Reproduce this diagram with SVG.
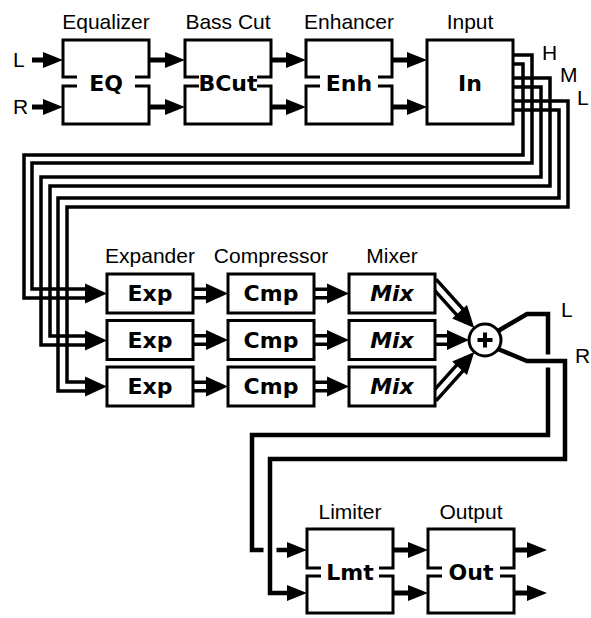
<svg xmlns="http://www.w3.org/2000/svg" width="591" height="618" viewBox="0 0 591 618">
<style>
.box{fill:#fff;stroke:#000;stroke-width:3}
.split{fill:none;stroke:#000;stroke-width:3}
.lbl{font-family:"Liberation Sans",Arial,sans-serif;font-size:21px;text-anchor:middle;fill:#000}
.lbs{font-family:"Liberation Sans",Arial,sans-serif;font-size:21px;fill:#000}
.nm{font-family:"DejaVu Sans",sans-serif;font-weight:bold;font-size:22px;text-anchor:middle;fill:#000}
.it{font-style:italic}
.bus{fill:none;stroke:#000;stroke-width:3.5}
.sig{fill:none;stroke:#000;stroke-width:5}
.out{fill:none;stroke:#000;stroke-width:4.5}
.halo{fill:none;stroke:#fff;stroke-width:13}
.dO{fill:none;stroke:#000;stroke-width:12}
.dI{fill:none;stroke:#fff;stroke-width:5}
.head{fill:#000}
</style>
<defs>
<marker id="ar" markerUnits="userSpaceOnUse" markerWidth="20" markerHeight="16" viewBox="0 0 20 16" refX="10" refY="8" orient="auto">
<path d="M0,0 L20,8 L0,16 z" fill="#000"/>
</marker>
<g id="dbl">
<line class="dO" x1="-62" y1="0" x2="-21" y2="0"/>
<line class="dI" x1="-62" y1="0" x2="-20" y2="0"/>
<path class="head" d="M0,0 L-22,-10 L-22,10 z"/>
</g>
<g id="dblS">
<line class="dO" x1="-36" y1="0" x2="-21" y2="0"/>
<line class="dI" x1="-36" y1="0" x2="-20" y2="0"/>
<path class="head" d="M0,0 L-22,-10 L-22,10 z"/>
</g>
</defs>

<g id="connectors">
<line class="sig" x1="32" y1="60" x2="53" y2="60" marker-end="url(#ar)"/>
<line class="sig" x1="32" y1="107" x2="53" y2="107" marker-end="url(#ar)"/>
<line class="sig" x1="149" y1="60" x2="175" y2="60" marker-end="url(#ar)"/>
<line class="sig" x1="149" y1="107" x2="175" y2="107" marker-end="url(#ar)"/>
<line class="sig" x1="271" y1="60" x2="296" y2="60" marker-end="url(#ar)"/>
<line class="sig" x1="271" y1="107" x2="296" y2="107" marker-end="url(#ar)"/>
<line class="sig" x1="392" y1="60" x2="417" y2="60" marker-end="url(#ar)"/>
<line class="sig" x1="392" y1="107" x2="417" y2="107" marker-end="url(#ar)"/>

<path class="bus" d="M513,55 H532 V163 H32 V289 H87"/>
<path class="bus" d="M513,64 H523 V155 H24 V298 H87"/>
<path class="bus" d="M513,78 H550 V186 H50 V336 H87"/>
<path class="bus" d="M513,87 H541 V177 H41 V345 H87"/>
<path class="bus" d="M513,101 H568 V207 H67 V382 H87"/>
<path class="bus" d="M513,110 H559 V198 H58 V391 H87"/>
<path class="head" d="M107,293.5 L85,283.5 L85,303.5 z"/>
<path class="head" d="M107,340.5 L85,330.5 L85,350.5 z"/>
<path class="head" d="M107,386.5 L85,376.5 L85,396.5 z"/>

<use href="#dblS" transform="translate(228,293.5)"/>
<use href="#dblS" transform="translate(228,340)"/>
<use href="#dblS" transform="translate(228,386.5)"/>
<use href="#dblS" transform="translate(349,293.5)"/>
<use href="#dblS" transform="translate(349,340)"/>
<use href="#dblS" transform="translate(349,386.5)"/>

<use href="#dbl" transform="translate(474.3,328.1) rotate(48)"/>
<use href="#dblS" transform="translate(469,340)"/>
<use href="#dbl" transform="translate(474.3,351.9) rotate(-48)"/>

<path class="out" d="M498,331 L527,314 H548 V435 H252 V550 H297" marker-end="url(#ar)"/>
<path class="halo" d="M505,352 L527,361 H565 V459 H270 V593 H290"/>
<path class="out" d="M498,349 L527,361 H565 V459 H270 V593 H297" marker-end="url(#ar)"/>

<line class="sig" x1="393" y1="550" x2="418" y2="550" marker-end="url(#ar)"/>
<line class="sig" x1="393" y1="593" x2="418" y2="593" marker-end="url(#ar)"/>
<line class="sig" x1="514" y1="550" x2="537" y2="550" marker-end="url(#ar)"/>
<line class="sig" x1="514" y1="593" x2="537" y2="593" marker-end="url(#ar)"/>
</g>

<g id="io-labels">
<text class="lbs" x="13" y="67">L</text>
<text class="lbs" x="13" y="114">R</text>
<text class="lbs" x="542" y="60">H</text>
<text class="lbs" x="560" y="82">M</text>
<text class="lbs" x="577" y="105">L</text>
<text class="lbs" x="561" y="317">L</text>
<text class="lbs" x="575" y="363">R</text>
</g>

<g id="eq">
<text class="lbl" x="106" y="29">Equalizer</text>
<path class="split" d="M77,77 H63 V40 H149 V77 H135 M77,86 H63 V124 H149 V86 H135"/>
<text class="nm" x="106" y="91">EQ</text>
</g>
<g id="bcut">
<text class="lbl" x="228" y="29">Bass Cut</text>
<path class="split" d="M199,77 H185 V40 H271 V77 H257 M199,86 H185 V124 H271 V86 H257"/>
<text class="nm" x="228" y="91">BCut</text>
</g>
<g id="enh">
<text class="lbl" x="349" y="29">Enhancer</text>
<path class="split" d="M320,77 H306 V40 H392 V77 H378 M320,86 H306 V124 H392 V86 H378"/>
<text class="nm" x="349" y="91">Enh</text>
</g>
<g id="input">
<text class="lbl" x="470" y="29">Input</text>
<rect class="box" x="427" y="40" width="86" height="84"/>
<text class="nm" x="470" y="91">In</text>
</g>

<g id="exp">
<text class="lbl" x="150" y="263">Expander</text>
<rect class="box" x="107" y="274" width="86" height="39"/>
<rect class="box" x="107" y="320.5" width="86" height="39"/>
<rect class="box" x="107" y="367" width="86" height="39"/>
<text class="nm" x="150" y="301">Exp</text>
<text class="nm" x="150" y="348">Exp</text>
<text class="nm" x="150" y="394">Exp</text>
</g>
<g id="cmp">
<text class="lbl" x="271" y="263">Compressor</text>
<rect class="box" x="228" y="274" width="86" height="39"/>
<rect class="box" x="228" y="320.5" width="86" height="39"/>
<rect class="box" x="228" y="367" width="86" height="39"/>
<text class="nm" x="271" y="301">Cmp</text>
<text class="nm" x="271" y="348">Cmp</text>
<text class="nm" x="271" y="394">Cmp</text>
</g>
<g id="mix">
<text class="lbl" x="392" y="263">Mixer</text>
<rect class="box" x="349" y="274" width="86" height="39"/>
<rect class="box" x="349" y="320.5" width="86" height="39"/>
<rect class="box" x="349" y="367" width="86" height="39"/>
<text class="nm it" x="392" y="301">Mix</text>
<text class="nm it" x="392" y="348">Mix</text>
<text class="nm it" x="392" y="394">Mix</text>
</g>
<g id="sum">
<circle cx="485" cy="340" r="16" fill="#fff" stroke="#000" stroke-width="3"/>
<path d="M477.5,340 H492.5 M485,332.5 V347.5" stroke="#000" stroke-width="4" fill="none"/>
</g>

<g id="lmt">
<text class="lbl" x="350" y="519">Limiter</text>
<path class="split" d="M321,568 H307 V529 H393 V568 H379 M321,576 H307 V613 H393 V576 H379"/>
<text class="nm" x="350" y="580">Lmt</text>
</g>
<g id="outp">
<text class="lbl" x="471" y="519">Output</text>
<path class="split" d="M442,568 H428 V529 H514 V568 H500 M442,576 H428 V613 H514 V576 H500"/>
<text class="nm" x="471" y="580">Out</text>
</g>
</svg>
